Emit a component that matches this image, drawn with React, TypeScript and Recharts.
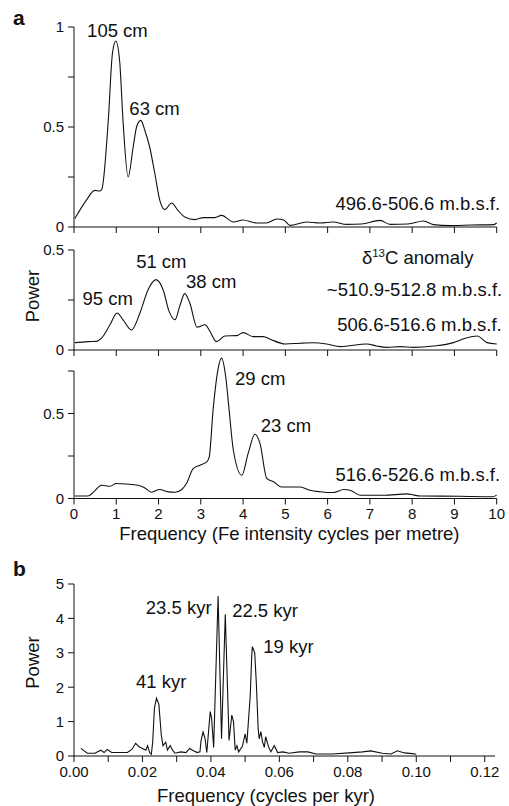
import React from 'react';
import { LineChart, Line, XAxis, YAxis, ReferenceDot, ReferenceLine } from 'recharts';

const FONT = '"Liberation Sans", Arial, Helvetica, sans-serif';
const INK = '#111';

// ---------- Panel a: frequency (Fe intensity cycles per metre) ----------
const depthTicks = [0, 1, 2, 3, 4, 5, 6, 7, 8, 9, 10];

// 496.6-506.6 m.b.s.f.
const topFreq = [0.02, 0.29, 0.49, 0.61, 0.66, 0.81, 0.91, 0.99, 1.08, 1.16, 1.28, 1.4, 1.48, 1.58, 1.68, 1.79, 1.91, 2.03, 2.15, 2.31, 2.46, 2.62, 2.86, 3.06, 3.33, 3.49, 3.77, 4.0, 4.32, 4.55, 4.8, 4.96, 5.11, 5.5, 5.82, 6.13, 6.45, 6.8, 7.24, 7.48, 7.9, 8.27, 8.5, 8.9, 9.4, 9.93, 10.0];
const topPower = [0.042, 0.133, 0.183, 0.18, 0.19, 0.53, 0.87, 0.93, 0.83, 0.53, 0.25, 0.4, 0.5, 0.533, 0.48, 0.4, 0.27, 0.133, 0.087, 0.12, 0.083, 0.05, 0.037, 0.047, 0.047, 0.058, 0.025, 0.035, 0.02, 0.02, 0.04, 0.035, 0.008, 0.025, 0.02, 0.025, 0.013, 0.015, 0.033, 0.013, 0.015, 0.03, 0.012, 0.007, 0.01, 0.012, 0.02];

// 506.6-516.6 m.b.s.f.
const midFreq = [0.02, 0.33, 0.53, 0.65, 0.85, 1.02, 1.16, 1.36, 1.56, 1.75, 1.94, 2.11, 2.25, 2.39, 2.5, 2.62, 2.74, 2.91, 3.1, 3.22, 3.37, 3.57, 3.85, 4.0, 4.24, 4.48, 4.64, 5.0, 5.35, 5.66, 5.98, 6.3, 6.93, 7.16, 7.4, 7.72, 8.03, 8.51, 8.98, 9.26, 9.54, 9.77, 10.0];
const midPower = [0.037, 0.042, 0.043, 0.059, 0.126, 0.185, 0.151, 0.1, 0.185, 0.3, 0.352, 0.3, 0.193, 0.151, 0.218, 0.282, 0.235, 0.114, 0.126, 0.092, 0.042, 0.07, 0.072, 0.087, 0.067, 0.067, 0.054, 0.03, 0.034, 0.036, 0.03, 0.017, 0.03, 0.02, 0.013, 0.017, 0.013, 0.02, 0.037, 0.059, 0.07, 0.037, 0.03];

// 516.6-526.6 m.b.s.f.
const lowFreq = [0.02, 0.33, 0.49, 0.65, 0.85, 1.0, 1.24, 1.52, 1.68, 1.83, 2.03, 2.23, 2.39, 2.55, 2.66, 2.82, 2.98, 3.14, 3.2, 3.29, 3.39, 3.49, 3.59, 3.67, 3.77, 3.97, 4.12, 4.28, 4.4, 4.56, 4.72, 4.91, 5.35, 5.58, 5.82, 6.14, 6.38, 6.53, 6.77, 7.33, 7.88, 8.04, 8.19, 9.14, 9.9, 10.0];
const lowPower = [0.015, 0.015, 0.045, 0.078, 0.072, 0.088, 0.085, 0.078, 0.062, 0.037, 0.053, 0.039, 0.037, 0.053, 0.088, 0.176, 0.196, 0.215, 0.245, 0.52, 0.735, 0.826, 0.715, 0.52, 0.284, 0.137, 0.265, 0.378, 0.324, 0.118, 0.098, 0.068, 0.068, 0.049, 0.04, 0.035, 0.053, 0.049, 0.019, 0.019, 0.027, 0.02, 0.015, 0.013, 0.01, 0.02];

// ---------- Panel b: frequency (cycles per kyr) ----------
const kyrTicks = [0, 0.01, 0.02, 0.03, 0.04, 0.05, 0.06, 0.07, 0.08, 0.09, 0.1, 0.11, 0.12];
const powerTicksB = [0, 1, 2, 3, 4, 5];
const timeFreq = [0.002, 0.0039, 0.0061, 0.0078, 0.0088, 0.0097, 0.011, 0.013, 0.0156, 0.0169, 0.018, 0.019, 0.02, 0.021, 0.0215, 0.0221, 0.0226, 0.023, 0.0235, 0.0241, 0.0248, 0.0255, 0.026, 0.0268, 0.0273, 0.0281, 0.0288, 0.0295, 0.0312, 0.0327, 0.0338, 0.0346, 0.036, 0.0368, 0.0371, 0.0377, 0.0383, 0.0388, 0.0398, 0.0402, 0.0408, 0.0421, 0.0431, 0.0442, 0.0453, 0.0461, 0.0466, 0.0471, 0.0476, 0.0481, 0.0492, 0.05, 0.0505, 0.0515, 0.0519, 0.0521, 0.0528, 0.0533, 0.0538, 0.0541, 0.0546, 0.0551, 0.0556, 0.056, 0.0568, 0.0575, 0.0585, 0.0595, 0.061, 0.0629, 0.0658, 0.0683, 0.0707, 0.0755, 0.0804, 0.0843, 0.0867, 0.0901, 0.0926, 0.0945, 0.0965, 0.0989, 0.1];
const timePower = [0.22, 0.08, 0.08, 0.17, 0.1, 0.19, 0.1, 0.1, 0.1, 0.19, 0.37, 0.27, 0.22, 0.17, 0.3, 0.1, 0.05, 0.42, 1.4, 1.68, 1.5, 0.61, 0.3, 0.4, 0.17, 0.3, 0.17, 0.08, 0.12, 0.1, 0.22, 0.17, 0.1, 0.12, 0.44, 0.7, 0.5, 0.1, 1.29, 1.1, 0.25, 4.65, 0.5, 4.12, 0.45, 1.19, 1.0, 0.17, 0.3, 0.12, 0.28, 0.64, 0.37, 1.77, 2.85, 3.18, 3.0, 2.06, 0.8, 0.5, 0.71, 0.4, 0.25, 0.56, 0.28, 0.12, 0.3, 0.1, 0.12, 0.08, 0.12, 0.12, 0.06, 0.06, 0.09, 0.12, 0.15, 0.08, 0.06, 0.15, 0.09, 0.07, 0.05];

type Note = { f: number; p: number; text: string; anchor: 'start' | 'end'; sup?: string; rest?: string };

const topNotes: Note[] = [
  { f: 0.31, p: 0.95, text: '105 cm', anchor: 'start' },
  { f: 1.31, p: 0.56, text: '63 cm', anchor: 'start' },
  { f: 10.08, p: 0.085, text: '496.6-506.6 m.b.s.f.', anchor: 'end' },
];
const midNotes: Note[] = [
  { f: 0.2, p: 0.225, text: '95 cm', anchor: 'start' },
  { f: 1.47, p: 0.41, text: '51 cm', anchor: 'start' },
  { f: 2.65, p: 0.31, text: '38 cm', anchor: 'start' },
  { f: 9.45, p: 0.43, text: 'δ', sup: '13', rest: 'C anomaly', anchor: 'end' },
  { f: 10.13, p: 0.27, text: '~510.9-512.8 m.b.s.f.', anchor: 'end' },
  { f: 10.12, p: 0.0975, text: '506.6-516.6 m.b.s.f.', anchor: 'end' },
];
const lowNotes: Note[] = [
  { f: 3.81, p: 0.668, text: '29 cm', anchor: 'start' },
  { f: 4.42, p: 0.393, text: '23 cm', anchor: 'start' },
  { f: 10.08, p: 0.105, text: '516.6-526.6 m.b.s.f.', anchor: 'end' },
];
const timeNotes: Note[] = [
  { f: 0.0402, p: 4.13, text: '23.5 kyr', anchor: 'end' },
  { f: 0.0462, p: 4.03, text: '22.5 kyr', anchor: 'start' },
  { f: 0.0553, p: 2.99, text: '19 kyr', anchor: 'start' },
  { f: 0.0181, p: 1.97, text: '41 kyr', anchor: 'start' },
];

const rows = (f: number[], p: number[]) => f.map((x, i) => ({ f: x, p: p[i] }));

const NOTE_SIZE = 18.5;
const TICK = { fontSize: 15, fill: INK };

const noteLabel = (n: Note) => (props: any) => {
  const vb = props.viewBox || { x: 0, y: 0 };
  return (
    <text x={vb.x} y={vb.y} textAnchor={n.anchor} fontSize={NOTE_SIZE} fill={INK}>
      {n.sup ? (
        <>
          <tspan>{n.text}</tspan>
          <tspan dy={-7} fontSize={11.5}>{n.sup}</tspan>
          <tspan dy={7}>{n.rest}</tspan>
        </>
      ) : (
        n.text
      )}
    </text>
  );
};

const renderNotes = (notes: Note[]) =>
  notes.map((n, i) => (
    <ReferenceDot key={'n' + i} x={n.f} y={n.p} r={0} fill="none" stroke="none" ifOverflow="visible" label={noteLabel(n)} />
  ));

const xTitle = (text: string, dx: number, dy: number) => (props: any) => {
  const vb = props.viewBox;
  return (
    <text x={vb.x + vb.width / 2 + dx} y={vb.y + dy} textAnchor="middle" fontSize={18.5} fill={INK}>
      {text}
    </text>
  );
};

const yTitle = (text: string, x: number, dy: number) => (props: any) => {
  const vb = props.viewBox;
  const cy = vb.y + vb.height / 2 + dy;
  return (
    <text x={x} y={cy} transform={`rotate(-90 ${x} ${cy})`} textAnchor="middle" fontSize={18.5} fill={INK}>
      {text}
    </text>
  );
};

const hideMinor = (v: number) => (v === 0.25 || v === 0.75 ? '' : String(v));
const blank = () => '';

const W = 509;
const Y_W = 74;
const lineProps = { dataKey: 'p', stroke: INK, strokeWidth: 1.1, dot: false, isAnimationActive: false } as const;
const axisStroke = { stroke: INK, strokeWidth: 1 };

export default function App() {
  return (
    <div style={{ position: 'absolute', left: 0, top: 0, width: W, height: 806, fontFamily: FONT, background: '#fff' }}>
      <svg width={W} height={806} style={{ position: 'absolute', left: 0, top: 0 }}>
        <text x={13} y={25} fontSize={21} fontWeight="bold" fill={INK}>a</text>
        <text x={13} y={575.5} fontSize={21} fontWeight="bold" fill={INK}>b</text>
      </svg>

      {/* a, top */}
      <div style={{ position: 'absolute', left: 0, top: 0 }}>
        <LineChart width={W} height={237} data={rows(topFreq, topPower)} margin={{ top: 27, right: 12.3, bottom: 0, left: 0 }}>
          <XAxis dataKey="f" type="number" domain={[0, 10]} ticks={depthTicks} height={10} tickSize={6} tickFormatter={blank} axisLine={axisStroke} tickLine={axisStroke} />
          <YAxis type="number" domain={[0, 1]} ticks={[0, 0.25, 0.5, 0.75, 1]} width={Y_W} tickSize={6} tickMargin={4} tick={TICK} tickFormatter={hideMinor} axisLine={axisStroke} tickLine={axisStroke} />
          <Line {...lineProps} type="monotone" />
          {renderNotes(topNotes)}
        </LineChart>
      </div>

      {/* a, middle */}
      <div style={{ position: 'absolute', left: 0, top: 237 }}>
        <LineChart width={W} height={123} data={rows(midFreq, midPower)} margin={{ top: 13, right: 12.3, bottom: 0, left: 0 }}>
          <XAxis dataKey="f" type="number" domain={[0, 10]} ticks={depthTicks} height={10} tickSize={6} tickFormatter={blank} axisLine={axisStroke} tickLine={axisStroke} />
          <YAxis type="number" domain={[0, 0.5]} ticks={[0, 0.25, 0.5]} width={Y_W} tickSize={6} tickMargin={4} tick={TICK} tickFormatter={hideMinor} axisLine={axisStroke} tickLine={axisStroke} label={yTitle('Power', 39, -4)} />
          <Line {...lineProps} type="monotone" />
          {renderNotes(midNotes)}
        </LineChart>
      </div>

      {/* a, bottom */}
      <div style={{ position: 'absolute', left: 0, top: 350 }}>
        <LineChart width={W} height={196.5} data={rows(lowFreq, lowPower)} margin={{ top: 4, right: 12.3, bottom: 0, left: 0 }}>
          <XAxis dataKey="f" type="number" domain={[0, 10]} ticks={depthTicks} height={48} tickSize={6} tickMargin={4} tick={TICK} axisLine={axisStroke} tickLine={axisStroke} label={xTitle('Frequency (Fe intensity cycles per metre)', 4, 41.5)} />
          <YAxis type="number" domain={[0, 0.85]} ticks={[0, 0.25, 0.5, 0.75]} width={Y_W} tickSize={6} tickMargin={4} tick={TICK} tickFormatter={hideMinor} axisLine={false} tickLine={axisStroke} />
          <ReferenceLine segment={[{ x: 0, y: 0 }, { x: 0, y: 0.75 }]} stroke={INK} strokeWidth={1} ifOverflow="visible" />
          <Line {...lineProps} type="monotone" />
          {renderNotes(lowNotes)}
        </LineChart>
      </div>

      {/* b */}
      <div style={{ position: 'absolute', left: 0, top: 556 }}>
        <LineChart width={W} height={250} data={rows(timeFreq, timePower)} margin={{ top: 28, right: 14, bottom: 0, left: 0 }}>
          <XAxis
            dataKey="f"
            type="number"
            domain={[0, 0.123]}
            ticks={kyrTicks}
            height={50}
            tickSize={6}
            tickMargin={4}
            tick={TICK}
            tickFormatter={(v: number) => (Math.round(v * 100) % 2 === 0 ? v.toFixed(2) : '')}
            axisLine={axisStroke}
            tickLine={axisStroke}
            label={xTitle('Frequency (cycles per kyr)', -18.5, 46)}
          />
          <YAxis type="number" domain={[0, 5]} ticks={powerTicksB} width={Y_W} tickSize={6} tickMargin={4} tick={TICK} axisLine={axisStroke} tickLine={axisStroke} label={yTitle('Power', 39, -7.5)} />
          <Line {...lineProps} type="linear" />
          {renderNotes(timeNotes)}
        </LineChart>
      </div>
    </div>
  );
}
